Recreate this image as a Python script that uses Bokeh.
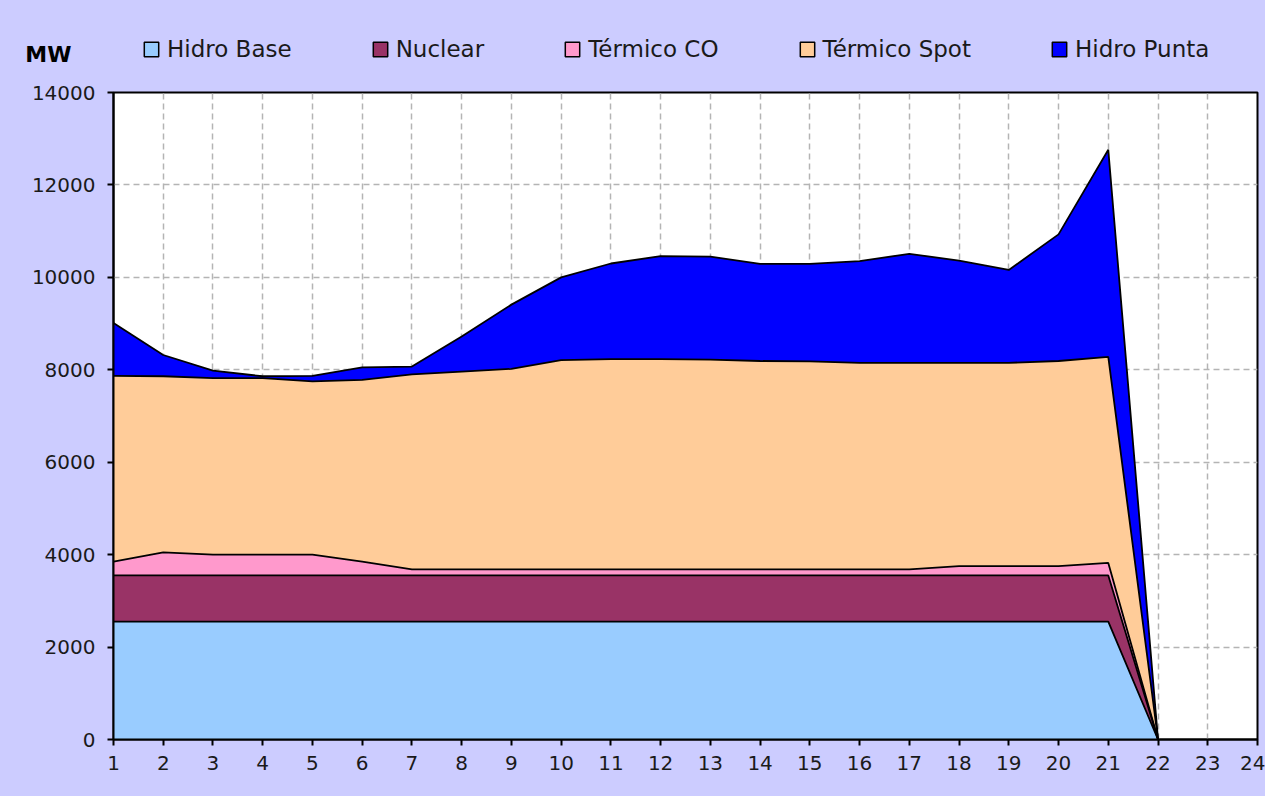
from bokeh.plotting import figure
from bokeh.layouts import column
from bokeh.models import (ColumnDataSource, Range1d, FixedTicker, SingleIntervalTicker,
                          Legend, LegendItem)
from bokeh.embed import file_html
from bokeh.resources import INLINE

# ---- data ----
hours = [1, 2, 3, 4, 5, 6, 7, 8, 9, 10, 11, 12, 13, 14, 15, 16, 17, 18, 19, 20, 21, 22]
hidro_base = [2550, 2550, 2550, 2550, 2550, 2550, 2550, 2550, 2550, 2550, 2550,
              2550, 2550, 2550, 2550, 2550, 2550, 2550, 2550, 2550, 2550, 0]
nuclear = [1000, 1000, 1000, 1000, 1000, 1000, 1000, 1000, 1000, 1000, 1000,
           1000, 1000, 1000, 1000, 1000, 1000, 1000, 1000, 1000, 1000, 0]
termico_co = [300, 500, 450, 450, 450, 300, 130, 130, 130, 130, 130,
              130, 130, 130, 130, 130, 130, 200, 200, 200, 270, 0]
termico_spot = [4020, 3810, 3820, 3820, 3750, 3930, 4220, 4280, 4340, 4530, 4550,
                4550, 4540, 4510, 4500, 4470, 4470, 4400, 4400, 4440, 4460, 0]
hidro_punta = [1140, 460, 160, 40, 120, 270, 170, 760, 1390, 1790, 2070,
               2230, 2230, 2100, 2110, 2200, 2360, 2210, 2010, 2740, 4480, 0]

series_names = ["Hidro Base", "Nuclear", "Térmico CO", "Térmico Spot", "Hidro Punta"]
series_keys = ["hidro_base", "nuclear", "termico_co", "termico_spot", "hidro_punta"]
colors = ["#99CCFF", "#993366", "#FF99CC", "#FFCC99", "#0000FF"]
x_ticks = list(range(1, 25))
unit_label = "MW"

source = ColumnDataSource(dict(x=hours, hidro_base=hidro_base, nuclear=nuclear,
                               termico_co=termico_co, termico_spot=termico_spot,
                               hidro_punta=hidro_punta))

FONT = "DejaVu Sans"
TXT = "#1a1a1a"
BG = "#CCCCFF"
NAN = float("nan")

# ---- header strip: unit label (as y-axis label) + legend ----
head = figure(width=1265, height=80, output_backend="svg", toolbar_location=None,
              x_range=Range1d(0, 1), y_range=Range1d(0, 1),
              min_border_left=113, min_border_right=8, min_border_top=28, min_border_bottom=0)
head.xaxis.visible = False
head.grid.visible = False
head.outline_line_color = None
head.background_fill_color = None
head.border_fill_color = BG
ya = head.yaxis[0]
ya.ticker = FixedTicker(ticks=[])
ya.axis_line_color = None
ya.major_tick_line_color = None
ya.minor_tick_line_color = None
ya.axis_label = unit_label
ya.axis_label_orientation = "horizontal"
ya.axis_label_standoff = 42
ya.axis_label_text_font = FONT
ya.axis_label_text_font_size = "22px"
ya.axis_label_text_font_style = "bold"
ya.axis_label_text_color = "black"

items = []
for name, col in zip(series_names, colors):
    dummy = head.quad(left=[NAN], right=[NAN], top=[NAN], bottom=[NAN], fill_color=col,
                      line_color="black", line_width=1.5)
    items.append(LegendItem(label=name, renderers=[dummy]))

leg = Legend(items=items, location=(29, 18), orientation="horizontal",
             glyph_width=18, glyph_height=18, label_standoff=7, spacing=79,
             padding=0, margin=0, border_line_color=None,
             background_fill_alpha=0,
             label_text_font=FONT, label_text_font_size="23px",
             label_text_color=TXT)
head.add_layout(leg)

# ---- main chart ----
p = figure(width=1265, height=716, output_backend="svg", toolbar_location=None,
           x_range=Range1d(1, 24), y_range=Range1d(0, 14000),
           min_border_left=113, min_border_right=8, min_border_top=12, min_border_bottom=57)
p.border_fill_color = BG
p.background_fill_color = "white"
p.outline_line_color = "black"
p.outline_line_width = 2

p.varea_stack(stackers=series_keys, x="x", color=colors, source=source)
p.vline_stack(series_keys, x="x", source=source, line_color="black", line_width=1.8)

p.xaxis.ticker = FixedTicker(ticks=x_ticks)
p.yaxis.ticker = SingleIntervalTicker(interval=2000)
for ax in (p.xaxis, p.yaxis):
    ax.axis_line_color = "black"
    ax.axis_line_width = 2
    ax.major_tick_line_color = "black"
    ax.major_tick_line_width = 2
    ax.major_tick_out = 6
    ax.major_tick_in = 0
    ax.minor_tick_line_color = None
    ax.major_label_text_font = FONT
    ax.major_label_text_font_size = "20px"
    ax.major_label_text_color = TXT
p.yaxis.major_label_standoff = 12
p.xaxis.major_label_standoff = 10

for g in (p.xgrid, p.ygrid):
    g.grid_line_color = "#b4b4b4"
    g.grid_line_dash = "6 4"
    g.grid_line_width = 1.5
p.xgrid.ticker = FixedTicker(ticks=x_ticks)
p.ygrid.ticker = SingleIntervalTicker(interval=2000)

layout = column(head, p, spacing=0, styles={"background-color": BG})
open("out.html", "w").write(file_html(layout, INLINE))
